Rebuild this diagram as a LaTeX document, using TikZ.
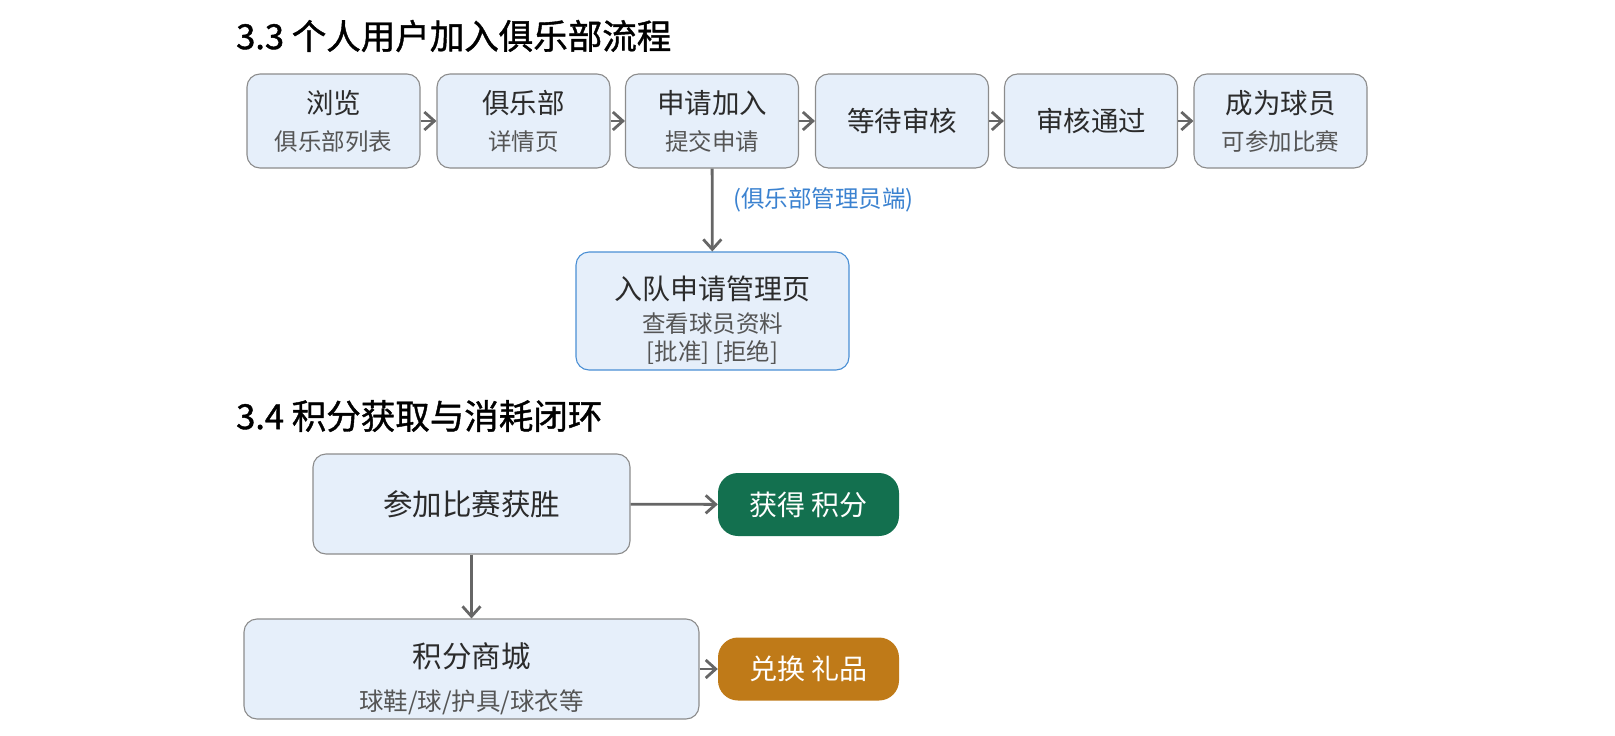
\documentclass[tikz,border=0pt]{standalone}
\usepackage{fontspec}
\setmainfont{Noto Sans CJK SC}
\newfontfamily\titlefont[FakeBold=1.2]{Noto Sans CJK SC}
\usetikzlibrary{arrows.meta}
\definecolor{boxfill}{HTML}{E6EFFA}
\definecolor{boxline}{HTML}{8C8C8C}
\definecolor{adminline}{HTML}{4A8FD4}
\definecolor{bluetext}{HTML}{3B82D0}
\definecolor{greenpill}{HTML}{13704F}
\definecolor{orangepill}{HTML}{BF7A18}
\definecolor{arrowgray}{HTML}{666666}
\definecolor{maintext}{HTML}{2B2B2B}
\definecolor{subtext}{HTML}{555555}
\newcommand{\mainsz}{\fontsize{27.5}{37}\selectfont}
\newcommand{\subsz}{\fontsize{23.5}{37}\selectfont\color{subtext}}
\tikzset{
  flowbox/.style={draw=boxline, line width=1.1pt, fill=boxfill, rounded corners=13pt,
    minimum width=173pt, minimum height=94pt, inner sep=0pt, align=center, text=maintext,
    font=\fontsize{27.5}{37}\selectfont},
  pill/.style={rounded corners=20pt, minimum width=181pt, minimum height=63pt,
    inner sep=0pt, text=white, font=\fontsize{28}{32}\selectfont},
  flowarrow/.style={draw=arrowgray, line width=2.8pt, -{Straight Barb[length=10pt,width=18pt,line width=2.8pt]}},
  titletext/.style={anchor=west, inner sep=0pt, font=\titlefont\fontsize{34.5}{38}\selectfont, text=black}
}
\begin{document}
\begin{tikzpicture}[x=1pt,y=-1pt]
\useasboundingbox (0,0) rectangle (1615,736);
% titles
\node[titletext] (t1) at (236,36) {3.3 个人用户加入俱乐部流程};
\node[titletext] (t2) at (236,416) {3.4 积分获取与消耗闭环};
% row of steps
\node[flowbox] (b1) at (333.5,121) {\mainsz 浏览\\\subsz 俱乐部列表};
\node[flowbox] (b2) at (523.5,121) {\mainsz 俱乐部\\\subsz 详情页};
\node[flowbox] (b3) at (712,121) {\mainsz 申请加入\\\subsz 提交申请};
\node[flowbox] (b4) at (902,121) {\mainsz 等待审核};
\node[flowbox] (b5) at (1091,121) {\mainsz 审核通过};
\node[flowbox] (b6) at (1280.5,121) {\mainsz 成为球员\\\subsz 可参加比赛};
\draw[flowarrow] (b1) -- (b2);
\draw[flowarrow] (b2) -- (b3);
\draw[flowarrow] (b3) -- (b4);
\draw[flowarrow] (b4) -- (b5);
\draw[flowarrow] (b5) -- (b6);
% admin
\node[flowbox, draw=adminline, minimum width=273pt, minimum height=118pt,
  font=\fontsize{28}{28}\selectfont, text height=98pt, text depth=0pt] (adm) at (712.5,311)
  {\fontsize{28}{28}\selectfont 入队申请管理页\\[5pt]\fontsize{23.5}{28}\selectfont\color{subtext}查看球员资料\\\fontsize{23.5}{28}\selectfont\color{subtext}[批准] [拒绝]};
\draw[flowarrow] (b3) -- (adm);
\node[anchor=west, inner sep=0pt, text=bluetext, font=\fontsize{23.5}{26}\selectfont] (admlabel) at (733,200) {(俱乐部管理员端)};
% points loop
\node[flowbox, minimum width=317pt, minimum height=100pt, font=\fontsize{29.5}{43}\selectfont] (win) at (471.5,504) {参加比赛获胜};
\node[pill, fill=greenpill] (earn) at (808.5,504.5) {获得 积分};
\node[flowbox, minimum width=455pt, minimum height=100pt, font=\fontsize{29.5}{43}\selectfont,
  text height=82pt, text depth=0pt] (mall) at (471.5,669)
  {积分商城\\\fontsize{24.5}{43}\selectfont\color{subtext}球鞋/球/护具/球衣等};
\node[pill, fill=orangepill] (gift) at (808.5,669) {兑换 礼品};
\draw[flowarrow] (win) -- (earn);
\draw[flowarrow] (win) -- (mall);
\draw[flowarrow] (mall) -- (gift);
\end{tikzpicture}
\end{document}
